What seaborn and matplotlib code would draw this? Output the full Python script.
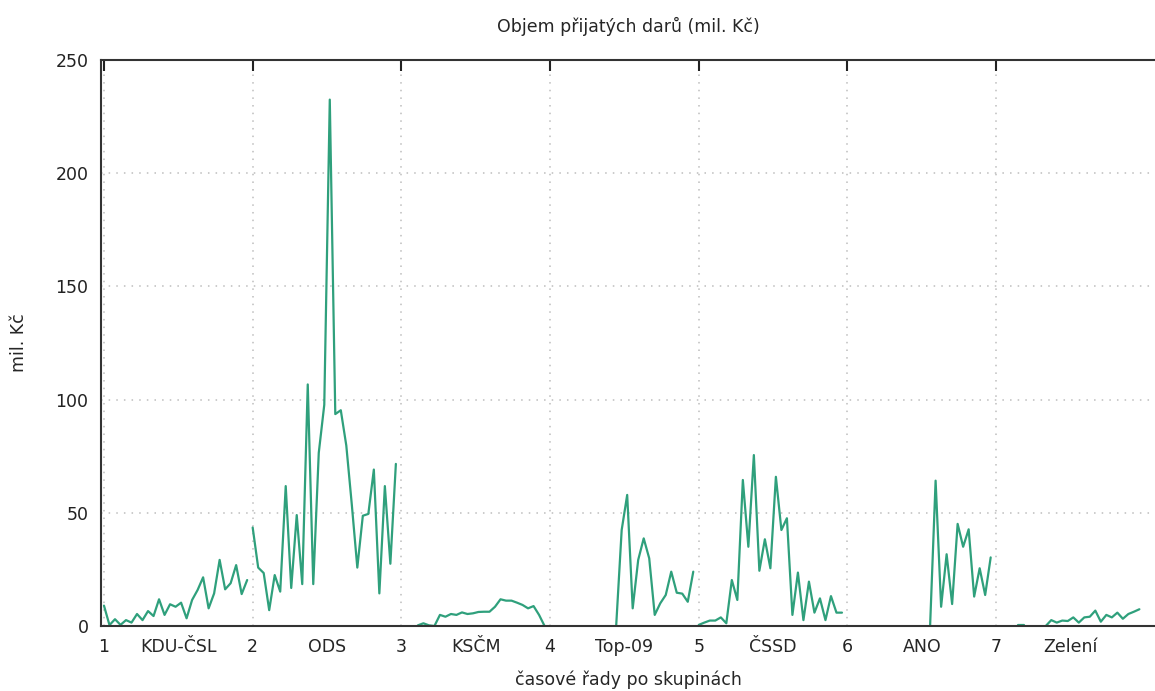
import numpy as np
import pandas as pd
import matplotlib
matplotlib.use("Agg")
import matplotlib.pyplot as plt
import seaborn as sns

# groups (time series per party), 27 periods each, None = no data
parties = ['KDU-ČSL', 'ODS', 'KSČM', 'Top-09', 'ČSSD', 'ANO', 'Zelení']
n_periods = 27

kdu = [9, 0.4, 3, 0.5, 2.6, 1.5, 5.3, 2.6, 6.6, 4.4, 11.8, 4.9, 9.6, 8.5, 10.3, 3.4,
       11.5, 15.9, 21.5, 7.8, 14.4, 29.2, 16.2, 18.9, 26.9, 14.1, 20.3]
ods = [43.5, 25.8, 23.4, 7, 22.5, 15.2, 61.8, 16.8, 49, 18.5, 106.7, 18.5, 76.5, 97.7,
       232.5, 93.6, 95.3, 79.7, 53.6, 25.8, 48.7, 49.5, 69.1, 14.4, 61.8, 27.5, 71.6]
kscm = [None, None, None, 0.3, 1.2, 0.3, 0, 4.9, 4.1, 5.3, 4.9, 6.0, 5.3, 5.6, 6.2,
        6.3, 6.3, 8.5, 11.8, 11.2, 11.2, 10.3, 9.3, 7.8, 8.8, 4.9, 0]
top09 = [None] * 12 + [0, 42.4, 57.9, 7.8, 29.2, 38.7, 29.9, 4.9, 10, 13.7, 24, 14.7,
                       14.3, 10.7, 24]
cssd = [0.5, 1.5, 2.4, 2.4, 3.8, 1.2, 20.3, 11.5, 64.5, 35, 75.5, 24.4, 38.3, 25.5,
        65.9, 42.4, 47.6, 4.9, 23.6, 2.6, 19.6, 5.9, 12.2, 2.6, 13.2, 5.9, 5.9]
ano = [None] * 15 + [0, 64.2, 8.5, 31.7, 9.7, 45.1, 35, 42.7, 13, 25.5, 13.7, 30.3]
zeleni = [None] * 4 + [0.3, 0.3] + [None] * 3 + [0, 2.6, 1.5, 2.4, 2.2, 3.8, 1.5, 3.8,
                                                 4.1, 6.8, 1.9, 4.9, 3.8, 5.9, 3.2, 5.3,
                                                 6.3, 7.4]
series = [kdu, ods, kscm, top09, cssd, ano, zeleni]

group_ticks = [1, 2, 3, 4, 5, 6, 7]
y_ticks = [0, 50, 100, 150, 200, 250]

# long table: x = group number + period / 27, split into runs so gaps stay gaps
rows = []
for g, (name, vals) in enumerate(zip(parties, series)):
    run = 0
    prev = None
    for i, v in enumerate(vals):
        if v is None:
            prev = None
            continue
        if prev is None:
            run += 1
        rows.append({'x': g + 1 + i / n_periods, 'y': v, 'run': f'{name}-{run}'})
        prev = v
df = pd.DataFrame(rows)

sns.set_style("white")
plt.rcParams['font.family'] = ['DejaVu Sans']

fig = plt.figure(figsize=(11.55, 6.91), dpi=100)
ax = fig.add_axes([101 / 1155, 1 - 626 / 691, 1 - 101 / 1155, (626 - 60) / 691])

sns.lineplot(data=df, x='x', y='y', units='run', estimator=None, color='#2fa07c',
             linewidth=1.6, legend=False, ax=ax)

ax.set_xlim(0.98, 8.068)
ax.set_ylim(0, 250)

# numbers on the group starts, party names in the middle of each group
ax.set_xticks(group_ticks)
ax.set_xticklabels([str(t) for t in group_ticks])
ax.set_xticks([t + 0.5 for t in group_ticks], minor=True)
ax.set_xticklabels(parties, minor=True)
ax.set_yticks(y_ticks)

fs = 12.5
ax.tick_params(axis='x', which='major', direction='in', length=8, width=1.5,
               top=True, labelsize=fs, pad=9, colors='#222222')
ax.tick_params(axis='x', which='minor', length=0, labelsize=fs, pad=9)
ax.tick_params(axis='y', direction='in', length=8, width=1.5, labelsize=fs, pad=9,
               colors='#222222')

ax.grid(True, which='major', color='#bdbdbd', linestyle=(0, (1, 4)), linewidth=1.1)
for side in ['left', 'bottom', 'top']:
    ax.spines[side].set_color('#333333')
    ax.spines[side].set_linewidth(1.5)
ax.spines['right'].set_visible(False)

ax.set_xlabel('časové řady po skupinách', fontsize=fs, labelpad=10)
ax.set_ylabel('mil. Kč', fontsize=fs, labelpad=20)
ax.set_title('Objem přijatých darů (mil. Kč)', fontsize=fs, pad=20)

fig.savefig('out.png', dpi=100)
